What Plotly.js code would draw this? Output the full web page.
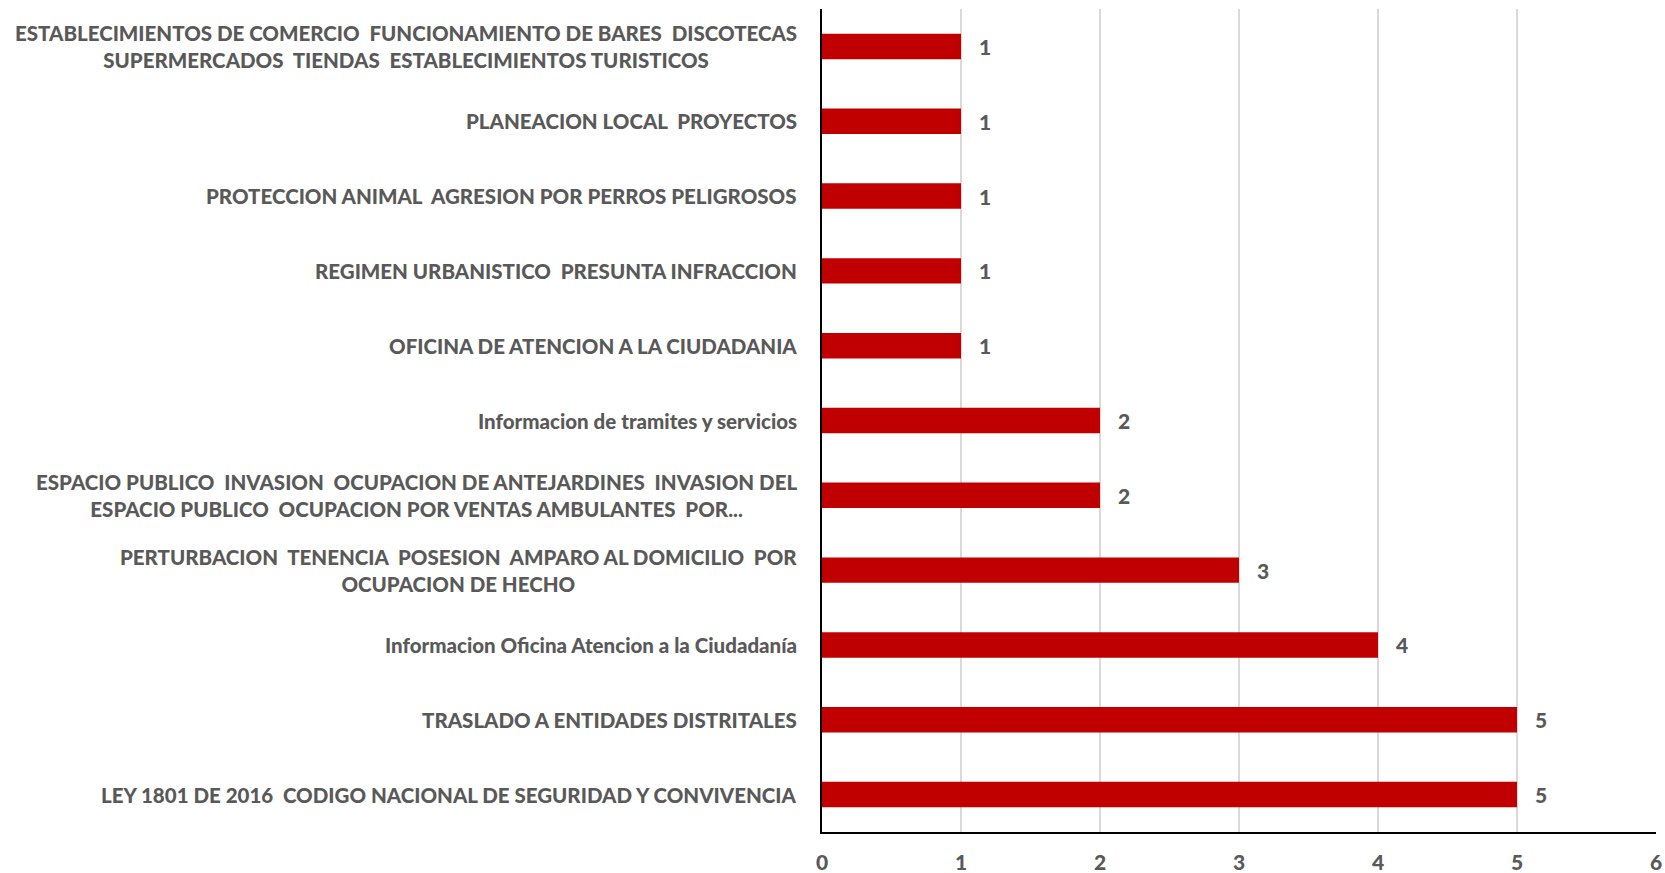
<!DOCTYPE html>
<html>
<head>
<meta charset="utf-8">
<script src="https://cdn.plot.ly/plotly-3.0.1.min.js"></script>
<style>
html,body{margin:0;padding:0;background:#fff;}
#chart{width:1665px;height:873px;}
</style>
</head>
<body>
<div id="chart"></div>
<script>
// Categories listed bottom to top
var categories = [
  "LEY 1801 DE 2016  CODIGO NACIONAL DE SEGURIDAD Y CONVIVENCIA",
  "TRASLADO A ENTIDADES DISTRITALES",
  "Informacion Oficina Atencion a la Ciudadanía",
  "PERTURBACION  TENENCIA  POSESION  AMPARO AL DOMICILIO  POR<br>OCUPACION DE HECHO",
  "ESPACIO PUBLICO  INVASION  OCUPACION DE ANTEJARDINES  INVASION DEL<br>ESPACIO PUBLICO  OCUPACION POR VENTAS AMBULANTES  POR...",
  "Informacion de tramites y servicios",
  "OFICINA DE ATENCION A LA CIUDADANIA",
  "REGIMEN URBANISTICO  PRESUNTA INFRACCION",
  "PROTECCION ANIMAL  AGRESION POR PERROS PELIGROSOS",
  "PLANEACION LOCAL  PROYECTOS",
  "ESTABLECIMIENTOS DE COMERCIO  FUNCIONAMIENTO DE BARES  DISCOTECAS<br>SUPERMERCADOS  TIENDAS  ESTABLECIMIENTOS TURISTICOS"
];
var values = [5, 5, 4, 3, 2, 2, 1, 1, 1, 1, 1];
var xTicks = [0, 1, 2, 3, 4, 5, 6];

var FONT = "Lato, 'Open Sans', sans-serif";
var GRAY = "#595959";
var W = 900;

function nbsp(s){ return s.replace(/  /g, "\u00a0 "); }
var catIds = categories.map(function(c, i){ return "c" + i; });

var annotations = categories.map(function(c, i){
  return {
    xref: "paper", yref: "y",
    x: -0.027, y: catIds[i],
    text: nbsp(c),
    showarrow: false,
    xanchor: "right", yanchor: "middle",
    align: "center",
    font: {family: FONT, size: 20.5, color: GRAY, weight: W}
  };
});

var trace = {
  type: "bar",
  orientation: "h",
  y: catIds,
  x: values,
  marker: {color: "#C00000"},
  text: values.map(function(v){ return "\u00a0\u00a0\u00a0" + v; }),
  textposition: "outside",
  cliponaxis: false,
  textfont: {family: FONT, size: 21, color: GRAY, weight: W},
  hoverinfo: "x+y"
};

var layout = {
  width: 1665, height: 873,
  margin: {l: 822, r: 9, t: 9, b: 41},
  paper_bgcolor: "#fff", plot_bgcolor: "#fff",
  bargap: 0.66,
  showlegend: false,
  font: {family: FONT, color: GRAY},
  xaxis: {
    range: [0, 6],
    tickvals: xTicks,
    ticktext: xTicks.map(String),
    showgrid: true, gridcolor: "#d9d9d9", gridwidth: 1.5,
    zeroline: false,
    showline: true, linecolor: "#000", linewidth: 2,
    ticks: "",
    ticklabelstandoff: 11,
    tickfont: {family: FONT, size: 21, color: GRAY, weight: W},
    fixedrange: true
  },
  yaxis: {
    type: "category",
    showticklabels: false,
    showgrid: false,
    zeroline: false,
    showline: true, linecolor: "#000", linewidth: 2,
    ticks: "",
    fixedrange: true
  },
  annotations: annotations
};

Plotly.newPlot("chart", [trace], layout, {displayModeBar: false, staticPlot: true});
</script>
</body>
</html>
